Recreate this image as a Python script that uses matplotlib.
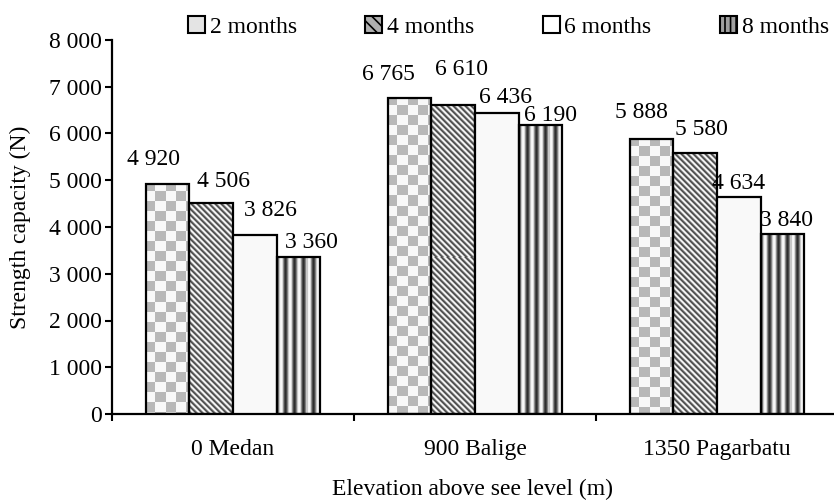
import matplotlib
matplotlib.use('Agg')
import matplotlib.pyplot as plt
import numpy as np
from matplotlib.patches import Patch

# ---------------- data ----------------
categories = ['0 Medan', '900 Balige', '1350 Pagarbatu']
series_labels = ['2 months', '4 months', '6 months', '8 months']
months_2 = [4920, 6765, 5888]
months_4 = [4506, 6610, 5580]
months_6 = [3826, 6436, 4634]
months_8 = [3360, 6190, 3840]
y_ticks = [0, 1000, 2000, 3000, 4000, 5000, 6000, 7000, 8000]
y_tick_labels = ['0', '1 000', '2 000', '3 000', '4 000', '5 000', '6 000', '7 000', '8 000']
x_label = 'Elevation above see level (m)'
y_label = 'Strength capacity (N)'

# ---------------- style ----------------
# value-label offsets in pixels (per series, per category)
label_dx = [[-14, -21, -10], [12, 8, 6], [16, 9, 0], [13, 10, 4]]
label_dy = [[19, 18, 21], [16, 30, 18], [19, 10, 8], [9, 4, 8]]

plt.rcParams['font.family'] = ['Liberation Serif', 'DejaVu Serif']
plt.rcParams['font.size'] = 17
plt.rcParams['hatch.linewidth'] = 1.2

W, H = 834, 504
fig = plt.figure(figsize=(W / 100, H / 100), dpi=100)
ax = fig.add_axes([112 / W, 90 / H, 722 / W, 374 / H])
XMAX = 722 / 242
ax.set_xlim(0, XMAX)
ax.set_ylim(0, 8000)


def checker(w, h):
    yy, xx = np.mgrid[0:h, 0:w]
    return np.where(((xx // 10 + yy // 10) % 2) == 0, 0.72, 0.97)


def diag(w, h):
    yy, xx = np.mgrid[0:h, 0:w]
    prof = np.array([0.30, 0.36, 0.62, 0.93, 0.96, 0.66])
    return prof[(xx - yy) % len(prof)]


def vstripes(w, h):
    yy, xx = np.mgrid[0:h, 0:w]
    prof = np.array([0.18, 0.28, 0.5, 0.78, 0.95, 0.97, 0.85, 0.55, 0.3])
    return prof[xx % len(prof)]


patterns = [checker, diag, None, vstripes]
series = [months_2, months_4, months_6, months_8]
bar_w = 43.7 / 242
xc = np.arange(len(categories)) + 0.5


def fmt(v):
    return f'{v:,}'.replace(',', ' ')


inv = ax.transData.inverted()
for i, vals in enumerate(series):
    pat = patterns[i]
    bars = ax.bar(xc + (i - 1.5) * bar_w, vals, width=bar_w,
                  facecolor='none' if pat else '#f9f9f9',
                  edgecolor='black', linewidth=1.6, zorder=3)
    for j, b in enumerate(bars):
        bx, bw, bh = b.get_x(), b.get_width(), b.get_height()
        if pat is not None:
            p0 = ax.transData.transform((bx, 0))
            p1 = ax.transData.transform((bx + bw, bh))
            px0 = np.floor(p0[0])
            py0 = np.round(p0[1])
            wpx = int(np.ceil(p1[0] - px0)) + 1
            hpx = int(np.ceil(p1[1] - py0)) + 1
            e0 = inv.transform((px0, py0))
            e1 = inv.transform((px0 + wpx, py0 + hpx))
            im = ax.imshow(pat(wpx, hpx), cmap='gray', vmin=0, vmax=1,
                           extent=(e0[0], e1[0], e0[1], e1[1]), aspect='auto',
                           interpolation='nearest', zorder=2)
            im.set_clip_path(b)
        ax.annotate(fmt(vals[j]), xy=(bx + bw / 2, bh),
                    xytext=(label_dx[i][j] * 0.72, label_dy[i][j] * 0.72),
                    textcoords='offset points', ha='center', va='baseline',
                    zorder=4)

ax.set_xlim(0, XMAX)
ax.set_ylim(0, 8000)

# axes / ticks
for s in ['top', 'right']:
    ax.spines[s].set_visible(False)
for s in ['left', 'bottom']:
    ax.spines[s].set_linewidth(1.6)

ax.set_xticks([0, 1, 2])
ax.set_xticklabels([])
ax.tick_params(axis='x', which='major', length=5, width=1.5, direction='out')
ax.set_xticks(xc, minor=True)
ax.set_xticklabels(categories, minor=True)
ax.tick_params(axis='x', which='minor', length=0, pad=18)

ax.set_yticks(y_ticks)
ax.set_yticklabels(y_tick_labels)
ax.tick_params(axis='y', length=5, width=1.5, pad=2, direction='out')

ax.set_xlabel(x_label)
ax.xaxis.set_label_coords(0.5, -(479 - 414) / 374)
ax.set_ylabel(y_label)
ax.yaxis.set_label_coords(-(112 - 31) / 722, 0.5)

# legend
handles = [
    Patch(facecolor='#e4e4e4', edgecolor='black', linewidth=1.5),
    Patch(facecolor='#b0b0b0', edgecolor='black', linewidth=1.5, hatch='\\\\\\'),
    Patch(facecolor='white', edgecolor='black', linewidth=1.5),
    Patch(facecolor='#a0a0a0', edgecolor='black', linewidth=1.5, hatch='|||'),
]
fig.legend(handles, series_labels, loc='center left',
           bbox_to_anchor=(188 / W, 1 - 27 / H), ncol=4, frameon=False,
           handlelength=0.72, handleheight=0.72, handletextpad=0.2,
           columnspacing=2.9, borderpad=0, borderaxespad=0)

fig.savefig('out.png', dpi=100)
